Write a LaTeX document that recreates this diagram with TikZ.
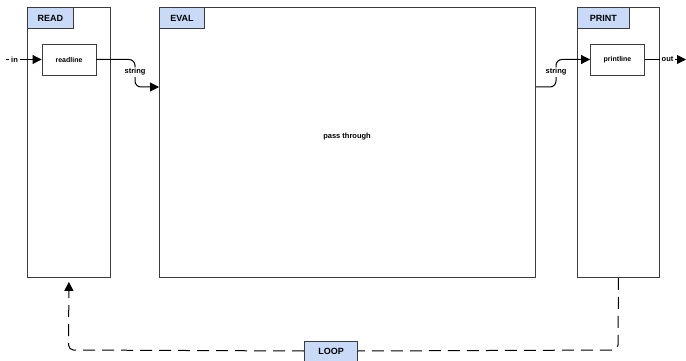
\documentclass[tikz,border=0pt]{standalone}
\usepackage{fontspec}
\setmainfont{Liberation Sans}
\usetikzlibrary{arrows.meta,calc}
\definecolor{hdr}{RGB}{201,218,248}
\definecolor{edge}{RGB}{60,60,60}
\tikzset{
  container/.style={draw=edge, line width=0.9pt, fill=white, rectangle, inner sep=0pt, anchor=north west},
  header/.style={draw=edge, line width=0.9pt, fill=hdr, rectangle, inner sep=0pt, anchor=north west, font=\bfseries\fontsize{9}{10}\selectfont},
  inner/.style={draw=edge, line width=0.9pt, fill=white, rectangle, inner sep=0pt, minimum width=54pt, minimum height=31pt, font=\bfseries\fontsize{7}{8}\selectfont},
  lbl/.style={fill=white, inner sep=1.5pt, font=\bfseries\fontsize{7.5}{8}\selectfont},
  conn/.style={draw=black, line width=1pt, -{Triangle[length=9pt,width=9pt]}},
  loopline/.style={draw=black, line width=1pt, dash pattern=on 12pt off 7pt, rounded corners=5pt}
}
\begin{document}
\begin{tikzpicture}[x=1pt,y=-1pt]
\useasboundingbox (0,0) rectangle (686,361);
% containers
\node[container, minimum width=83pt, minimum height=270pt] (read) at (27,7) {};
\node[container, minimum width=376pt, minimum height=270pt] (eval) at (159,7) {};
\node[container, minimum width=82pt, minimum height=270pt] (print) at (577,7) {};
\node[header, minimum width=46pt, minimum height=21pt] (readh) at (read.north west) {READ};
\node[header, minimum width=45pt, minimum height=21pt] (evalh) at (eval.north west) {EVAL};
\node[header, minimum width=52pt, minimum height=21pt] (printh) at (print.north west) {PRINT};
\node[font=\bfseries\fontsize{7.5}{8}\selectfont] (pass) at (347,137) {pass through};
% inner boxes
\node[inner] (readline) at (69,59.5) {readline};
\node[inner] (printline) at (617.5,59.5) {printline};
% in / out
\coordinate (inS) at (6,59.5);
\coordinate (outE) at (686,59.5);
\draw[conn] (inS) -- (readline.west) node[lbl, pos=0.24, inner xsep=2.5pt] {in};
\draw[conn] (printline.east) -- (outE) node[lbl, pos=0.55] {out};
% string connectors
\coordinate (e1) at ($(eval.north west)+(0,80)$);
\coordinate (e2) at ($(eval.north east)+(0,80)$);
\draw[conn, rounded corners=6pt] (readline.east) -- (135,59.5) -- (135,87) -- (e1);
\node[lbl] (s1) at (135,72) {string};
\draw[conn, rounded corners=6pt] (e2) -- (556,87) -- (556,59.5) -- (printline.west);
\node[lbl] (s2) at (556,72) {string};
% loop
\node[header, anchor=center, minimum width=53pt, minimum height=20pt] (loop) at (331,351) {LOOP};
\draw[loopline] (print.south) -- (618,350) -- (loop.east);
\draw[loopline, -{Triangle[length=9pt,width=9pt]}, shorten >=4pt] (loop.west) -- (68.5,350) -- (read.south);
\end{tikzpicture}
\end{document}
